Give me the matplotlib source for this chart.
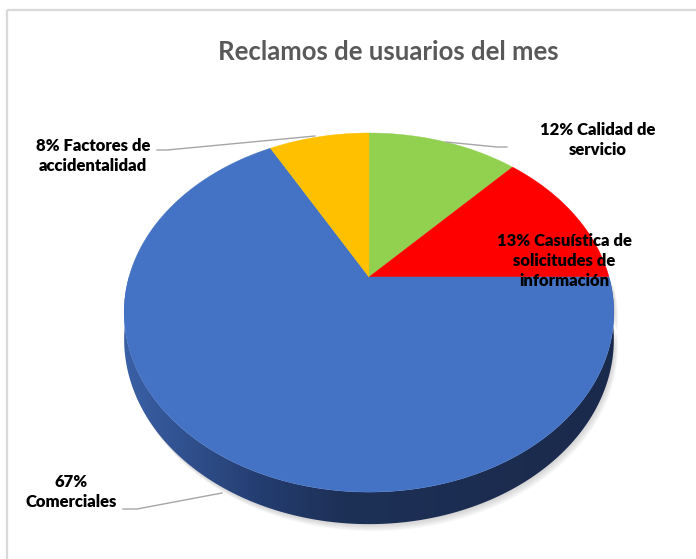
import numpy as np
import matplotlib.pyplot as plt
from matplotlib.patches import Polygon, Rectangle
from matplotlib.colors import LinearSegmentedColormap

plt.rcParams['font.family'] = ['Lato', 'DejaVu Sans']

# data
categories = ['Calidad de servicio', 'Casuística de solicitudes de información',
              'Comerciales', 'Factores de accidentalidad']
values = [12, 13, 67, 8]
colors = ['#92D050', '#FF0000', '#4472C4', '#FFC000']
labels = ['12% Calidad de\nservicio', '13% Casuística de\nsolicitudes de\ninformación',
          '67%\nComerciales', '8% Factores de\naccidentalidad']
title = 'Reclamos de usuarios del mes'

# 3d pie geometry (pixels), slight perspective
CX, CY = 369, 277
A, B, K = 240, 172.5, 0.198
D0 = 25.7


def proj(theta):
    u = np.sin(theta)
    v = -np.cos(theta)
    w = 1 - K * v
    return CX + A * u / w, CY + B * v / w, w


fig = plt.figure(figsize=(6.96, 5.59), dpi=100)
ax = fig.add_axes([0, 0, 1, 1])
ax.set_xlim(0, 696)
ax.set_ylim(559, 0)
ax.axis('off')

# chart frame
ax.add_patch(Rectangle((7, 10), 720, 600, fill=False, ec='#D9D9D9', lw=1.6))

ax.text(388, 52, title, ha='center', va='center', fontsize=18.5,
        fontweight='bold', color='#595959')

# side wall (front half)
th = np.radians(np.linspace(90, 270, 300))
x_top, y_top, w = proj(th)
y_bot = y_top + D0 / w
side = np.column_stack([np.r_[x_top, x_top[::-1]], np.r_[y_top, y_bot[::-1]]])

# soft shadow under the pie
for off in range(1, 8):
    ax.add_patch(Polygon(side + [off * 0.6, off], closed=True, fc='#808080',
                         ec='none', alpha=0.05))

side_patch = Polygon(side, closed=True, fc='none', ec='none')
ax.add_patch(side_patch)
cmap = LinearSegmentedColormap.from_list(
    'side', [(0, '#3A60A6'), (0.28, '#243D70'), (0.45, '#1D3056'), (1, '#1A2A4C')])
grad = np.linspace(0, 1, 256)[None, :]
img = ax.imshow(grad, cmap=cmap, extent=[x_top.min(), x_top.max(), y_bot.max() + 2, CY - 5],
                aspect='auto', zorder=2)
img.set_clip_path(side_patch)

# top face slices, clockwise from 12 o'clock
bounds = np.r_[0, np.cumsum(values)] / np.sum(values) * 2 * np.pi
for i, val in enumerate(values):
    t = np.linspace(bounds[i], bounds[i + 1], 200)
    px, py, _ = proj(t)
    pts = np.column_stack([np.r_[CX, px], np.r_[CY, py]])
    ax.add_patch(Polygon(pts, closed=True, fc=colors[i], ec=colors[i], lw=0.3, zorder=3))

# leader lines
lc = '#A6A6A6'
ax.plot([446, 497, 507], [142, 147, 147], color=lc, lw=1, zorder=4)
ax.plot([157, 167, 315], [150, 150, 136], color=lc, lw=1, zorder=4)
ax.plot([123, 137, 222], [509, 509, 493], color=lc, lw=1, zorder=4)

# data labels
lab_pos = [(598, 140), (564, 261), (71, 492), (93, 156)]
for (lx, ly), txt in zip(lab_pos, labels):
    ax.text(lx, ly, txt, ha='center', va='center', fontsize=12,
            fontweight='heavy', color='black', linespacing=1.3, zorder=5)

fig.savefig('out.png', dpi=100)
